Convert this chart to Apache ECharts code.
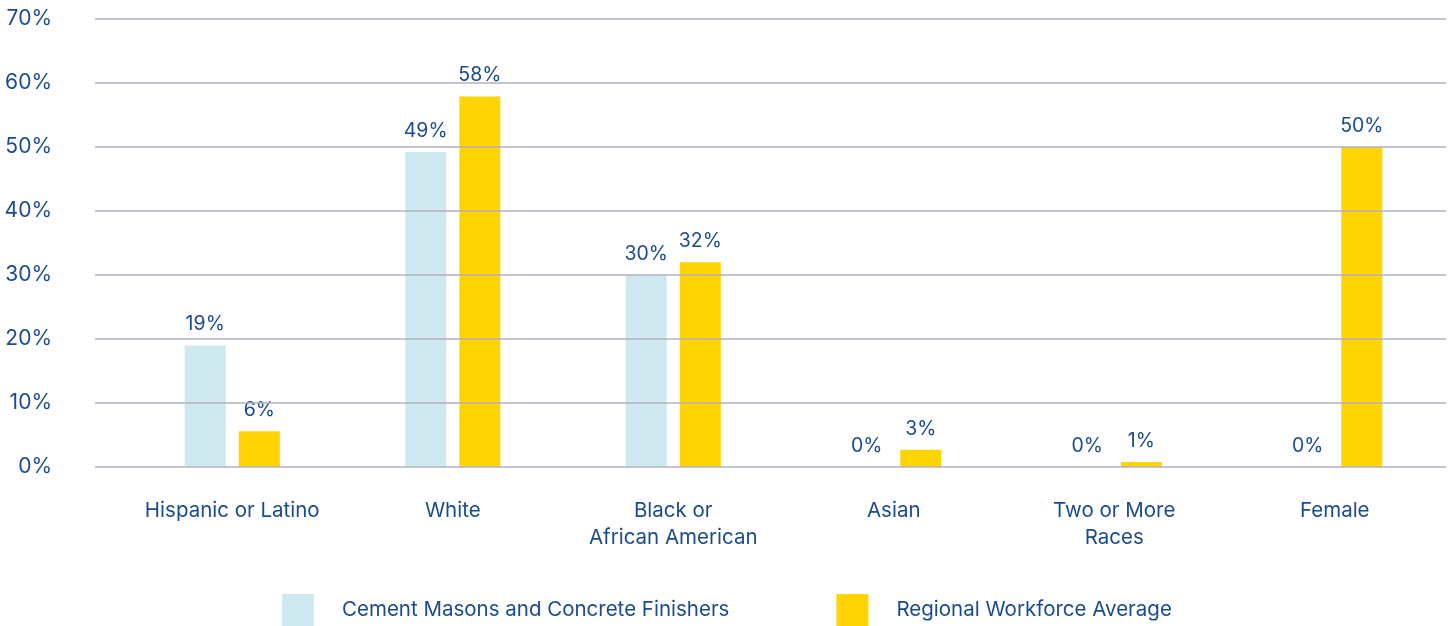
<!DOCTYPE html>
<html>
<head>
<meta charset="utf-8">
<script src="https://cdn.jsdelivr.net/npm/echarts@6/dist/echarts.min.js"></script>
<style>
  html, body { margin: 0; padding: 0; background: #ffffff; }
  #chart { width: 1452px; height: 626px; }
</style>
</head>
<body>
<div id="chart"></div>
<script>
// Workforce composition by group
const categories = ['Hispanic or Latino', 'White', 'Black or\nAfrican American', 'Asian', 'Two or More\nRaces', 'Female'];
const seriesNames = ['Cement Masons and Concrete Finishers', 'Regional Workforce Average'];
const cementMasons = [19, 49.2, 30, 0, 0, 0];
const regionalAverage = [5.6, 57.9, 32, 2.7, 0.8, 50];
const yTicks = [0, 10, 20, 30, 40, 50, 60, 70];

const TEXT = '#1b4b8f';
const FONT = 'Inter';

const chart = echarts.init(document.getElementById('chart'), null, { renderer: 'canvas' });

const pctLabel = {
  show: true,
  position: 'top',
  distance: 11,
  color: TEXT,
  fontFamily: FONT,
  fontSize: 19.5,
  formatter: p => Math.round(p.value) + '%'
};

chart.setOption({
  animation: false,
  backgroundColor: '#ffffff',
  textStyle: { fontFamily: FONT },
  grid: [
    // grid carrying the horizontal rules and percentage ticks
    { left: 95, right: 6, top: 19, bottom: 159 },
    // grid carrying the bars
    { left: 122, right: 7, top: 19, bottom: 159 }
  ],
  xAxis: [
    { gridIndex: 0, type: 'category', data: categories, show: false },
    {
      gridIndex: 1,
      type: 'category',
      data: categories,
      axisLine: { show: false },
      axisTick: { show: false },
      axisLabel: {
        color: TEXT,
        fontFamily: FONT,
        fontSize: 20.5,
        lineHeight: 27,
        margin: 30,
        interval: 0
      }
    }
  ],
  yAxis: [
    {
      gridIndex: 0,
      type: 'value',
      min: yTicks[0],
      max: yTicks[yTicks.length - 1],
      interval: 10,
      z: 10,
      axisLine: { show: false },
      axisTick: { show: false },
      axisLabel: {
        color: TEXT,
        fontFamily: FONT,
        fontSize: 21,
        margin: 43,
        formatter: v => v + '%'
      },
      splitLine: { show: true, lineStyle: { color: '#b1b1c4', width: 1.5 } }
    },
    {
      gridIndex: 1,
      type: 'value',
      min: yTicks[0],
      max: yTicks[yTicks.length - 1],
      interval: 10,
      show: false,
      splitLine: { show: false }
    }
  ],
  legend: {
    left: 282,
    bottom: 0,
    padding: 0,
    icon: 'rect',
    itemWidth: 32,
    itemHeight: 32,
    itemGap: 107,
    data: seriesNames,
    textStyle: {
      color: TEXT,
      fontFamily: FONT,
      fontSize: 20.5,
      padding: [0, 0, 0, 23]
    }
  },
  series: [
    {
      name: seriesNames[0],
      type: 'bar',
      xAxisIndex: 1,
      yAxisIndex: 1,
      data: cementMasons,
      barWidth: 41,
      barGap: '32%',
      itemStyle: { color: '#cde9ef' },
      label: pctLabel
    },
    {
      name: seriesNames[1],
      type: 'bar',
      xAxisIndex: 1,
      yAxisIndex: 1,
      data: regionalAverage,
      barWidth: 41,
      barGap: '32%',
      itemStyle: { color: '#ffd400' },
      label: pctLabel
    }
  ]
});
</script>
</body>
</html>
